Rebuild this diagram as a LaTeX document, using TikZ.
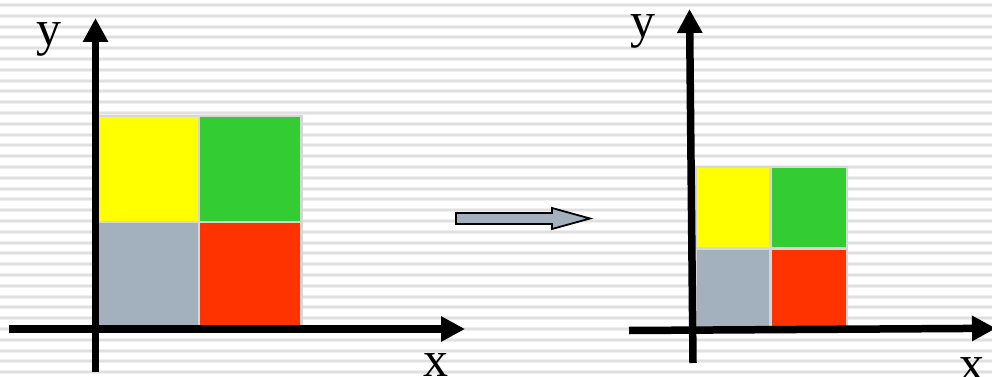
\documentclass[tikz,border=0pt]{standalone}
\usepackage{fontspec}
\setmainfont{Liberation Serif}
\usetikzlibrary{arrows.meta}
\definecolor{cyel}{HTML}{FFFF00}
\definecolor{cgrn}{HTML}{33CC33}
\definecolor{cgry}{HTML}{A3B1BF}
\definecolor{cred}{HTML}{FF3300}
\definecolor{cedge}{HTML}{D6D6D6}
\definecolor{cstripeA}{HTML}{EFEFEF}
\definecolor{cstripeB}{HTML}{E0E0E0}
\tikzset{
  axisline/.style={line width=7.5pt, -{Triangle[length=24pt,width=24pt]}},
  cell/.style={draw=cedge, line width=2.5pt},
  lbl/.style={inner sep=0pt, anchor=base, font=\fontsize{50}{50}\selectfont},
  bigarrow/.style={fill=cgry, draw=black, line width=1.8pt, line join=miter}
}
\begin{document}
\begin{tikzpicture}[x=1pt,y=-1pt]
\useasboundingbox (0,0) rectangle (992,377);
\clip (0,0) rectangle (992,377);
\fill[white] (0,0) rectangle (992,377);
% stripes
\foreach \k in {0,...,34}{
  \draw[cstripeA, line width=4pt] (0,{5+10.8*\k}) -- (992,{5+10.8*\k});
  \draw[cstripeB, line width=2pt] (0,{5+10.8*\k}) -- (992,{5+10.8*\k});
}
% left squares
\filldraw[cell, fill=cyel] (97.5,116) rectangle (199,222);
\filldraw[cell, fill=cgrn] (199,116) rectangle (301.5,222);
\filldraw[cell, fill=cgry] (97.5,222) rectangle (199,328);
\filldraw[cell, fill=cred] (199,222) rectangle (301.5,328);
% left axes
\coordinate (ly0) at (95.5,372);
\coordinate (ly1) at (95.5,18);
\coordinate (lx0) at (9,329);
\coordinate (lx1) at (465,329);
\draw[axisline] (lx0) -- (lx1);
\draw[axisline] (ly0) -- (ly1);
\node[lbl] (lyl) at (48.5,46) {y};
\node[lbl] (lxl) at (436,376) {x};
% middle arrow
\draw[bigarrow] (456,213) -- (552,213) -- (552,208) -- (590,218.5) -- (552,229) -- (552,224) -- (456,224) -- cycle;
% right squares
\filldraw[cell, fill=cyel] (695.5,167) rectangle (770.5,248.5);
\filldraw[cell, fill=cgrn] (770.5,167) rectangle (847,248.5);
\filldraw[cell, fill=cgry] (695.5,248.5) rectangle (770.5,328);
\filldraw[cell, fill=cred] (770.5,248.5) rectangle (847,328);
% right axes
\coordinate (ry0) at (693,363);
\coordinate (ry1) at (689.5,9);
\coordinate (rx0) at (629,330.5);
\coordinate (rx1) at (996,328.3);
\draw[axisline] (rx0) -- (rx1);
\draw[axisline] (ry0) -- (ry1);
\node[lbl] (ryl) at (642.5,38) {y};
\node[lbl] (rxl) at (972,380) {x};
\end{tikzpicture}
\end{document}
